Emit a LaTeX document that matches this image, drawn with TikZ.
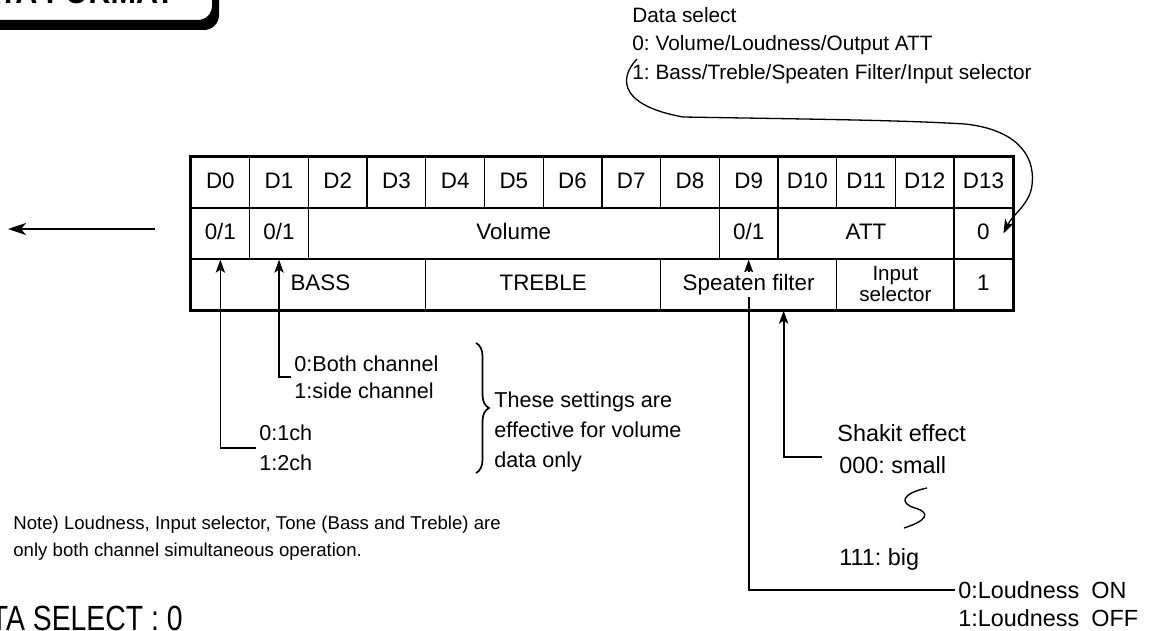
\documentclass[tikz,border=0pt]{standalone}
\usepackage{fontspec}
\setmainfont{Liberation Sans}
\usepackage{tikz}
\usetikzlibrary{positioning,arrows.meta,calc,decorations.pathreplacing}
\newcommand{\cellfont}{\fontsize{11.2}{13}\selectfont}
\newcommand{\notefont}{\fontsize{10.8}{14}\selectfont}
\newcommand{\sidefont}{\fontsize{11.7}{14}\selectfont}
\frenchspacing

\begin{document}
\begin{tikzpicture}[x=0.5pt, y=-0.5pt,
  cell/.style={draw, line width=0.65pt, inner sep=0pt, minimum height=25.5pt,
    minimum width=29.35pt, text height=8pt, text depth=2.2pt, font=\cellfont},
  lbl/.style={inner sep=1.5pt, anchor=west, align=left, font=\notefont},
  lead/.style={line width=0.85pt},
  arr/.style={-{Stealth[length=6.5pt, width=4.6pt, inset=1.5pt]}, line width=0.85pt},
  bigarr/.style={-{Stealth[length=9pt, width=6pt, inset=2.5pt]}, line width=1.4pt},
  curvearr/.style={-{Stealth[length=7pt, width=5pt, inset=2pt]}, line width=0.65pt}
]
\useasboundingbox (0,0) rectangle (1157,631);
\clip (0,0) rectangle (1157,631);

% title tab, cut by the page edge
\fill[rounded corners=7.5pt] (-80,-60) rectangle (219,30);
\draw[line width=1pt, fill=white, rounded corners=7.5pt] (-80,-60) rectangle (213,21);
\node[anchor=base east, inner sep=0pt, font=\bfseries\fontsize{17}{20}\selectfont] (ttl) at (175,4) {\scalebox{0.9}[1]{DATA FORMAT}};

% bit table
\foreach \i in {0,...,13}
  \node[cell] (d\i) at ({191+58.7*(\i+0.5)},182.5) {D\i};

\node[cell] (b0) at (220.35,233.5) {0/1};
\node[cell] (b1) at (279.05,233.5) {0/1};
\node[cell, minimum width=205.45pt] (vol) at (513.85,233.5) {Volume};
\node[cell] (ls) at (748.65,233.5) {0/1};
\node[cell, minimum width=88.05pt] (att) at (866.05,233.5) {ATT\hspace{19pt}};
\node[cell] (z0) at (983.45,233.5) {0};

\node[cell, minimum width=117.4pt] (bass) at (308.4,284.5) {\hspace{12pt}BASS};
\node[cell, minimum width=117.4pt] (treb) at (543.2,284.5) {TREBLE};
\node[cell, minimum width=88.05pt] (spf) at (748.65,284.5) {};
\node[cell, minimum width=58.7pt, align=center, text height=, text depth=,
  font=\fontsize{10.3}{10.5}\selectfont] (insel) at (895.4,284.5) {Input\\selector};
\node[cell] (z1) at (983.45,284.5) {1};

% loudness bit (drawn before the filter label, which covers it)
\node[lbl, font=\sidefont] (lon) at (955,590) {0:Loudness\hspace{6pt}ON};
\node[lbl, font=\sidefont] (loff) at (955,618) {1:Loudness\hspace{6pt}OFF};
\draw[arr] (lon.west) -| (ls.south);
\node[fill=white, inner sep=1pt, text height=8pt, text depth=2.2pt, font=\cellfont] (spft) at (spf) {Speaten filter};

\draw[line width=1.6pt] (d0.north west) rectangle (z1.south east);

% output arrow
\coordinate (outs) at (155,229);
\coordinate (oute) at (8,229);
\draw[bigarr] (outs) -- (oute);

% D0 / D1
\node[lbl, font=\fontsize{10.8}{15}\selectfont] (ch) at (256,448) {0:1ch\\1:2ch};
\draw[arr] (ch.west) -| (b0.south);
\node[lbl, font=\fontsize{10.8}{13.5}\selectfont] (both) at (291,377) {0:Both channel\\1:side channel};
\draw[arr] (both.west) -| (b1.south);

\coordinate (brt) at (476,343);
\coordinate (brb) at (476,473);
\draw[lead, decorate, decoration={brace, amplitude=6.5pt}] (brt) -- (brb);
\node[lbl, font=\fontsize{10.8}{15}\selectfont] (eff) at (491,432) {These settings are\\effective for volume\\data only};

% speaten filter
\node[lbl, font=\sidefont] (shk) at (834,433) {Shakit effect};
\node[lbl, font=\sidefont] (small) at (836,465) {000: small};
\node[lbl, font=\sidefont] (big) at (836,559) {111: big};
\draw[arr] ([xshift=-7pt, yshift=4pt]small.west) -| ([xshift=17.5pt]spf.south);
\draw[line width=0.7pt] (927,488) .. controls (903,493) and (898,503) .. (915,508)
  .. controls (932,513) and (926,521) .. (904,528);

% data select
\node[lbl, anchor=north west, font=\fontsize{10.4}{14.25}\selectfont] (dsel) at (629,4) {Data select\\0: Volume/Loudness/Output ATT\\1: Bass/Treble/Speaten Filter/Input selector};
\coordinate (dsrt) at (637,59);
\draw[curvearr] (dsrt) .. controls (617,80) and (622,106) .. (683,117)
  .. controls (800,119) and (900,120) .. (965,124)
  .. controls (1012,129) and (1036,152) .. (1032,185)
  .. controls (1030,204) and (1013,214) .. ([xshift=10pt]z0.center);

% note
\node[lbl, font=\fontsize{9.3}{13.5}\selectfont] (note) at (10,538) {Note) Loudness, Input selector, Tone (Bass and Treble) are\\only both channel simultaneous operation.};

\node[anchor=base east, inner sep=0pt, font=\fontsize{17.5}{20}\selectfont] (dsz) at (183,630) {\scalebox{0.81}[1]{DATA SELECT : 0}};
\end{tikzpicture}
\end{document}
